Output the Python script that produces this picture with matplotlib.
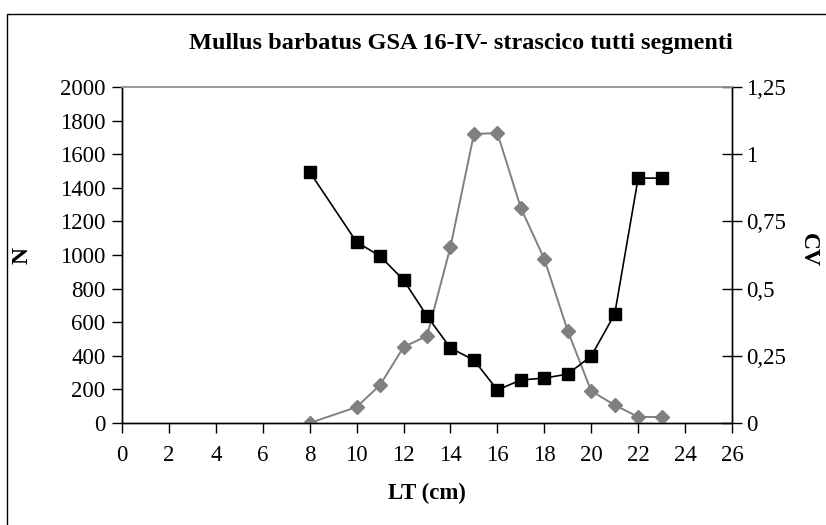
import matplotlib
matplotlib.use("Agg")
import matplotlib.pyplot as plt
from matplotlib.patches import Rectangle

plt.rcParams["font.family"] = ["Liberation Serif", "DejaVu Serif"]

# length classes (cm)
lt_n = [8, 10, 11, 12, 13, 14, 15, 16, 17, 18, 19, 20, 21, 22, 23]
n_values = [0, 95, 226, 452, 518, 1048, 1720, 1726, 1280, 976, 548, 190, 107, 36, 36]

lt_cv = [8, 10, 11, 12, 13, 14, 15, 16, 17, 18, 19, 20, 21, 22, 23]
cv_values = [0.934, 0.673, 0.621, 0.532, 0.398, 0.279, 0.234, 0.123, 0.160, 0.167, 0.182,
             0.249, 0.405, 0.911, 0.911]

x_ticks = list(range(0, 27, 2))
n_ticks = list(range(0, 2001, 200))
cv_ticks = [0, 0.25, 0.5, 0.75, 1, 1.25]
cv_tick_labels = ["0", "0,25", "0,5", "0,75", "1", "1,25"]

title = "Mullus barbatus GSA 16-IV- strascico tutti segmenti"

fig = plt.figure(figsize=(8.26, 5.25), dpi=100)
ax = fig.add_axes([122 / 826, 102 / 525, 610 / 826, 336 / 525])
ax2 = ax.twinx()

ax.plot(lt_n, n_values, color="#808080", linewidth=1.4, marker="D",
        markersize=7, markerfacecolor="#808080", markeredgecolor="#808080", zorder=3)
ax2.plot(lt_cv, cv_values, color="black", linewidth=1.2, marker="s",
         markersize=8, markerfacecolor="black", markeredgecolor="black", zorder=3)

ax.set_xlim(0, 26)
ax.set_ylim(0, 2000)
ax2.set_ylim(0, 1.25)
ax.set_xticks(x_ticks)
ax.set_yticks(n_ticks)
ax2.set_yticks(cv_ticks)
ax2.set_yticklabels(cv_tick_labels)

for a in (ax, ax2):
    a.spines["top"].set_color("#999999")
    a.spines["top"].set_linewidth(1.2)
    for s in ("left", "right", "bottom"):
        a.spines[s].set_color("black")
        a.spines[s].set_linewidth(1.0)

ax.tick_params(axis="both", direction="out", length=7, width=1.0, labelsize=16.5, pad=5)
ax.tick_params(axis="x", pad=9)
ax2.tick_params(axis="y", direction="inout", length=14, width=1.0, labelsize=16.5, pad=3)

ax.set_xlabel("LT (cm)", fontsize=16.5, fontweight="bold", labelpad=12)
fig.text(22 / 826, 1 - 255 / 525, "N", fontsize=17, fontweight="bold",
         rotation=90, ha="center", va="center")
fig.text(808 / 826, 1 - 250 / 525, "CV", fontsize=17, fontweight="bold",
         rotation=-90, ha="center", va="center")
fig.text(461 / 826, 1 - 44 / 525, title, fontsize=17.5, fontweight="bold",
         ha="center", va="center")

# outer chart frame (right and bottom edges fall outside the image)
fig.patches.append(Rectangle((7.5 / 826, -0.05), 1.05, 1 - 14 / 525 + 0.05,
                             transform=fig.transFigure, fill=False,
                             edgecolor="black", linewidth=1.0))

fig.savefig("out.png", dpi=100)
